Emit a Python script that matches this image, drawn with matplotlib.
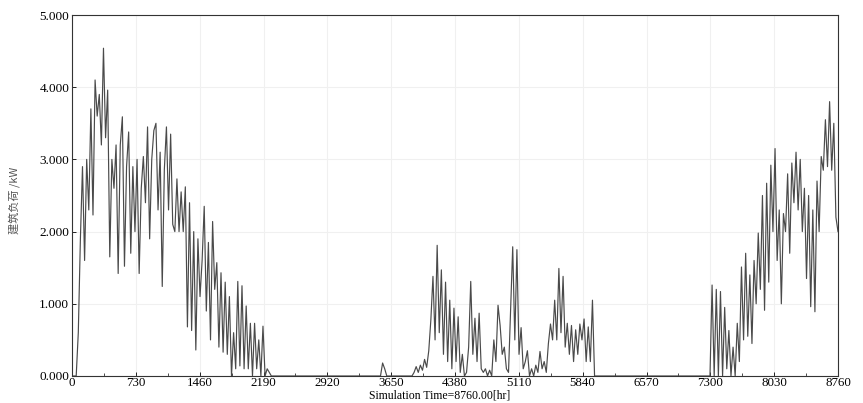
import matplotlib.pyplot as plt
import numpy as np

# daily samples of building load (kW)
heating_early = [
    0, 0, 0, 0.6, 1.9, 2.9, 1.6, 3.0, 2.3, 3.7,
    2.23, 4.1, 3.6, 3.9, 3.2, 4.54, 3.3, 3.96, 1.65, 3.0,
    2.6, 3.2, 1.42, 3.2, 3.59, 1.52, 2.9, 3.38, 1.7, 2.9,
    2.0, 3.0, 1.42, 2.6, 3.04, 2.4, 3.45, 1.9, 3.0, 3.4,
    3.5, 2.3, 3.1, 1.24, 2.86, 3.45, 2.3, 3.35, 2.1, 2.0,
    2.73, 2.0, 2.55, 2.0, 2.62, 0.68, 2.4, 0.63, 2.0, 0.36,
    1.9, 1.1, 1.6, 2.35, 0.9, 1.85, 0.5, 2.14, 1.2, 1.57,
    0.4, 1.43, 0.33, 1.3, 0.3, 1.1, 0.0, 0.6, 0.1, 1.31,
    0.14, 1.25, 0.1, 0.97, 0.1, 0.73, 0.0, 0.73, 0.1, 0.5,
    0.0, 0.69, 0.0, 0.1, 0.05, 0.0,
]
spring_off = [
    0, 0, 0, 0, 0, 0, 0, 0, 0, 0,
    0, 0, 0, 0, 0, 0, 0, 0, 0, 0,
    0, 0, 0, 0, 0, 0, 0, 0, 0, 0,
    0, 0, 0, 0, 0, 0, 0, 0, 0, 0,
    0, 0, 0, 0, 0, 0, 0, 0, 0, 0,
    0, 0,
]
cooling = [
    0.18, 0.1, 0, 0, 0, 0, 0, 0, 0, 0,
    0, 0, 0, 0, 0, 0.05, 0.13, 0.05, 0.15, 0.08,
    0.23, 0.12, 0.35, 0.78, 1.38, 0.5, 1.81, 0.6, 1.47, 0.3,
    1.3, 0.2, 1.05, 0.1, 0.94, 0.2, 0.82, 0.05, 0.3, 0.0,
    0.05, 0.4, 1.31, 0.3, 0.8, 0.2, 0.87, 0.1, 0.05, 0.1,
    0.0, 0.08, 0.0, 0.5, 0.2, 0.98, 0.7, 0.3, 0.4, 0.1,
    0.05, 0.91, 1.79, 0.5, 1.75, 0.3, 0.67, 0.1, 0.2, 0.35,
    0.0, 0.1, 0.0, 0.15, 0.05, 0.34, 0.1, 0.2, 0.05, 0.45,
    0.72, 0.5, 1.05, 0.5, 1.49, 0.6, 1.38, 0.4, 0.73, 0.3,
    0.7, 0.2, 0.64, 0.3, 0.72, 0.5, 0.79, 0.2, 0.68, 0.2,
    1.05, 0.0, 0.0,
]
autumn_off = [
    0, 0, 0, 0, 0, 0, 0, 0, 0, 0,
    0, 0, 0, 0, 0, 0, 0, 0, 0, 0,
    0, 0, 0, 0, 0, 0, 0, 0, 0, 0,
    0, 0, 0, 0, 0, 0, 0, 0, 0, 0,
    0, 0, 0, 0, 0, 0, 0, 0, 0, 0,
    0, 0, 0,
]
heating_late = [
    0.0, 1.26, 0.0, 1.2, 0.0, 1.17, 0.0, 0.95, 0.1, 0.63,
    0.0, 0.4, 0.0, 0.73, 0.2, 1.51, 0.5, 1.70, 0.55, 1.4,
    0.45, 1.6, 1.0, 1.98, 1.2, 2.5, 0.91, 2.67, 1.3, 2.92,
    2.0, 3.15, 1.6, 2.3, 1.0, 2.25, 2.0, 2.8, 1.7, 2.95,
    2.4, 3.1, 2.3, 3.0, 2.0, 2.6, 1.35, 2.5, 0.96, 2.3,
    0.89, 2.7, 2.0, 3.04, 2.85, 3.55, 2.9, 3.80, 2.85, 3.5,
    2.2, 2.0,
]
x_ticks = [0, 730, 1460, 2190, 2920, 3650, 4380, 5110, 5840, 6570, 7300, 8030, 8760]
y_ticks = [0, 1, 2, 3, 4, 5]

load = np.array(heating_early + spring_off + cooling + autumn_off + heating_late)
hours = np.arange(len(load)) * 24

serif = ['Liberation Serif', 'DejaVu Serif']
fig = plt.figure(figsize=(8.63, 4.03), dpi=100)
ax = fig.add_axes([72 / 863, 27 / 403, 766 / 863, 361 / 403])

ax.plot(hours, load, color='#4a4a4a', lw=0.85)

ax.set_xlim(0, 8760)
ax.set_ylim(0, 5)
ax.set_xticks(x_ticks)
ax.set_xticklabels([str(t) for t in x_ticks], family=serif, fontsize=9.3)
ax.set_yticks(y_ticks)
ax.set_yticklabels(['%.3f' % t for t in y_ticks], family=serif, fontsize=9.5)
ax.set_xticks(np.arange(365, 8760, 730), minor=True)
ax.tick_params(direction='in', length=3, width=0.6, pad=2)
ax.tick_params(axis='x', pad=1)
ax.tick_params(which='minor', direction='in', length=2, width=0.5)
ax.grid(True, color='#f0f0f0', lw=0.8)
ax.set_axisbelow(True)
for s in ax.spines.values():
    s.set_linewidth(0.8)
    s.set_color('#333333')

fig.text(14 / 863, 1 - 200 / 403, '建筑负荷 /kW', rotation=90, ha='center', va='center',
         fontsize=8, color='#555555', family=['Noto Sans CJK SC', 'DejaVu Sans'])
fig.text(440 / 863, 1 / 403, 'Simulation Time=8760.00[hr]', ha='center', va='bottom',
         fontsize=8.5, family=serif)

fig.savefig('out.png', dpi=100)
